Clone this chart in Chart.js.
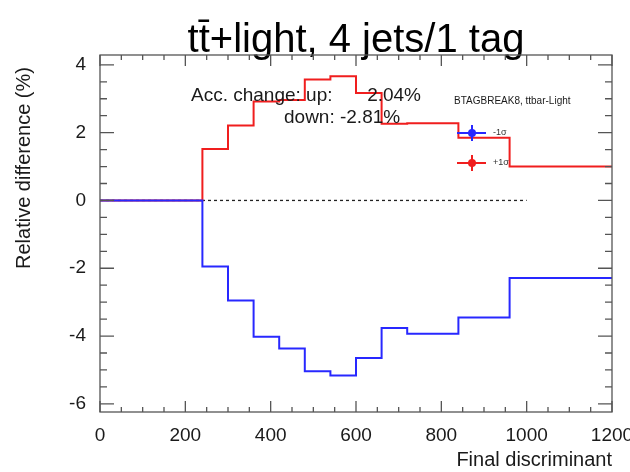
<!DOCTYPE html>
<html>
<head>
<meta charset="utf-8">
<script src="https://cdn.jsdelivr.net/npm/chart.js@4.4.1/dist/chart.umd.min.js"></script>
<style>
  html, body { margin: 0; padding: 0; background: #fff; }
  #wrap { width: 630px; height: 472px; }
</style>
</head>
<body>
<div id="wrap"><canvas id="chart" width="630" height="472"></canvas></div>
<script>
// bin edges of the final discriminant and the relative shift per bin (%)
const binEdges = [0, 240, 300, 360, 420, 480, 540, 600, 660, 720, 840, 960, 1200];
const upShift = [0, 1.52, 2.21, 2.92, 2.96, 3.57, 3.66, 3.17, 2.26, 2.28, 1.85, 1.00];
const downShift = [0, -1.95, -2.95, -4.02, -4.37, -5.04, -5.16, -4.65, -3.76, -3.93, -3.45, -2.29];
const zeroLineX = [0, 1000];
const accUp = '2.04%';
const accDown = '-2.81%';

const FONT = "'Liberation Sans', Arial, Helvetica, sans-serif";
Chart.defaults.font.family = FONT;

// one point per low edge, plus the closing point at the last edge
function histPoints(values) {
  const pts = values.map((v, i) => ({ x: binEdges[i], y: v }));
  pts.push({ x: binEdges[binEdges.length - 1], y: values[values.length - 1] });
  return pts;
}

// ROOT-like frame: ticks pointing inwards on all four sides, plus the text boxes
const frameAndTicks = {
  id: 'frameAndTicks',
  afterDraw(chart) {
    const { ctx, chartArea: a, scales: { x, y } } = chart;
    ctx.save();
    ctx.strokeStyle = '#555';
    ctx.lineWidth = 1.3;
    ctx.beginPath();
    for (let v = 0; v <= 1200; v += 50) {
      const px = x.getPixelForValue(v);
      const len = v % 200 === 0 ? 11 : 5;
      ctx.moveTo(px, a.bottom); ctx.lineTo(px, a.bottom - len);
      ctx.moveTo(px, a.top); ctx.lineTo(px, a.top + len);
    }
    for (let v = -6; v <= 4; v += 0.5) {
      const py = y.getPixelForValue(v);
      const len = v % 2 === 0 ? 14 : 7;
      ctx.moveTo(a.left, py); ctx.lineTo(a.left + len, py);
      ctx.moveTo(a.right, py); ctx.lineTo(a.right - len, py);
    }
    ctx.stroke();
    ctx.strokeRect(a.left, a.top, a.width, a.height);

    // y axis title, ROOT puts it towards the top of the frame
    ctx.fillStyle = '#1a1a1a';
    ctx.save();
    ctx.translate(24, 168);
    ctx.rotate(-Math.PI / 2);
    ctx.font = '20px ' + FONT;
    ctx.textAlign = 'center';
    ctx.textBaseline = 'middle';
    ctx.fillText('Relative difference (%)', 0, 0);
    ctx.restore();

    // acceptance change
    ctx.font = '19px ' + FONT;
    ctx.textBaseline = 'alphabetic';
    ctx.textAlign = 'left';
    ctx.fillText('Acc. change: up:', a.left + 91, a.top + 46);
    ctx.textAlign = 'right';
    ctx.fillText(accUp, a.left + 321, a.top + 46);
    ctx.textAlign = 'left';
    ctx.fillText('down: ' + accDown, a.left + 184, a.top + 68);

    // legend
    ctx.font = '10px ' + FONT;
    ctx.textBaseline = 'middle';
    ctx.fillText('BTAGBREAK8, ttbar-Light', a.left + 354, a.top + 46);
    const entries = [['rgb(40,40,255)', '-1\u03c3', 78], ['rgb(240,30,30)', '+1\u03c3', 108]];
    entries.forEach(([col, label, dy]) => {
      const cx = a.left + 372, cy = a.top + dy;
      ctx.strokeStyle = col;
      ctx.fillStyle = col;
      ctx.lineWidth = 2;
      ctx.beginPath();
      ctx.moveTo(cx - 15, cy); ctx.lineTo(cx + 14, cy);
      ctx.moveTo(cx, cy - 8); ctx.lineTo(cx, cy + 8);
      ctx.stroke();
      ctx.beginPath();
      ctx.arc(cx, cy, 4, 0, Math.PI * 2);
      ctx.fill();
      ctx.fillStyle = '#333';
      ctx.font = '9px ' + FONT;
      ctx.fillText(label, cx + 21, cy);
    });
    ctx.restore();
  }
};

new Chart(document.getElementById('chart'), {
  type: 'line',
  data: {
    datasets: [
      {
        label: '-1\u03c3',
        data: histPoints(downShift),
        borderColor: 'rgb(40,40,255)',
        borderWidth: 2,
        stepped: 'before',
        pointRadius: 0,
        order: 1
      },
      {
        label: '+1\u03c3',
        data: histPoints(upShift),
        borderColor: 'rgb(240,30,30)',
        borderWidth: 2,
        stepped: 'before',
        pointRadius: 0,
        order: 2
      },
      {
        label: 'zero',
        data: zeroLineX.map(v => ({ x: v, y: 0 })),
        borderColor: '#222',
        borderWidth: 1.3,
        borderDash: [3, 3],
        pointRadius: 0,
        order: 3
      }
    ]
  },
  options: {
    responsive: false,
    animation: false,
    layout: { padding: { left: 0, right: 18, top: 0, bottom: 0 } },
    plugins: {
      legend: { display: false },
      tooltip: { enabled: false },
      title: {
        display: true,
        text: 't\u0074\u0304+light, 4 jets/1 tag',
        color: '#000',
        fullSize: false,
        font: { size: 40, weight: 'normal', lineHeight: 0.7 },
        padding: { top: 27, bottom: 0 }
      }
    },
    scales: {
      x: {
        type: 'linear',
        min: 0,
        max: 1200,
        grid: { display: false },
        border: { display: false },
        ticks: {
          stepSize: 200, color: '#1a1a1a', font: { size: 19 }, padding: 4,
          maxRotation: 0, autoSkip: false,
          callback: v => String(v)
        },
        title: { display: true, text: 'Final discriminant', align: 'end', color: '#1a1a1a', font: { size: 20 }, padding: { top: 0, bottom: 0 } },
        afterFit(s) { s.height = 60; s.paddingRight = 0; s.paddingLeft = 0; }
      },
      y: {
        type: 'linear',
        min: -6.24,
        max: 4.29,
        grid: { display: false },
        border: { display: false },
        ticks: { stepSize: 2, includeBounds: false, color: '#1a1a1a', font: { size: 19 }, padding: 6 },
        title: { display: false },
        afterFit(s) { s.width = 100; s.paddingTop = 0; s.paddingBottom = 0; }
      }
    }
  },
  plugins: [frameAndTicks]
});
</script>
</body>
</html>
